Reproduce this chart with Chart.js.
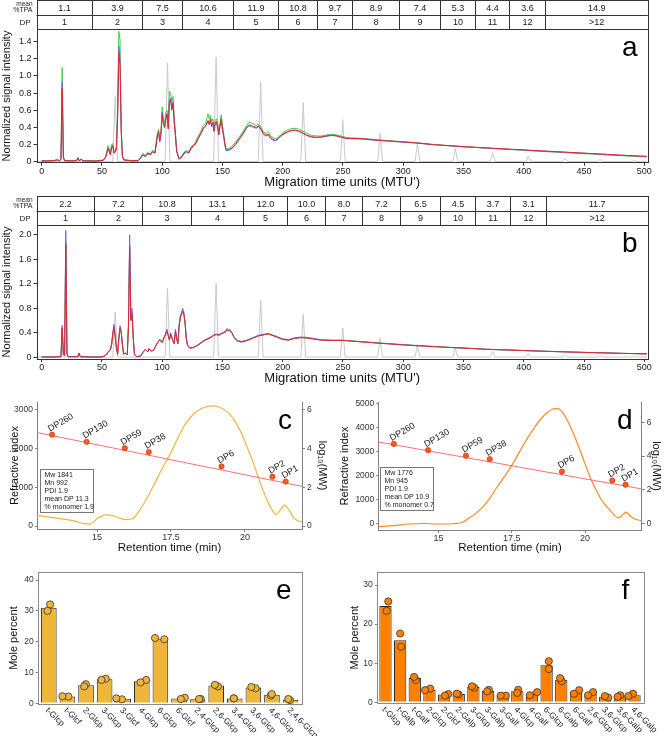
<!DOCTYPE html>
<html>
<head>
<meta charset="utf-8">
<title>Figura</title>
<script src="https://cdn.jsdelivr.net/npm/chart.js@4.4.1/dist/chart.umd.min.js"></script>
<style>
html, body { margin: 0; padding: 0; background: #ffffff; }
body { position: relative; width: 667px; height: 736px; overflow: hidden; }
.painel { position: absolute; }
</style>
</head>
<body>
<div class="painel" style="left:0px;top:0px;width:667px;height:190px"><canvas id="graficoA"></canvas></div>
<div class="painel" style="left:0px;top:196px;width:667px;height:190px"><canvas id="graficoB"></canvas></div>
<div class="painel" style="left:0px;top:395px;width:333px;height:160px"><canvas id="graficoC"></canvas></div>
<div class="painel" style="left:333px;top:395px;width:334px;height:160px"><canvas id="graficoD"></canvas></div>
<div class="painel" style="left:0px;top:565px;width:333px;height:171px"><canvas id="graficoE"></canvas></div>
<div class="painel" style="left:333px;top:565px;width:334px;height:171px"><canvas id="graficoF"></canvas></div>
<script>
// ---------- panel a: electropherogram ----------
var mtuA = [0,5,10,13,15,16,17,18,19,25,
  29,30,31,33,34,45,51,53,54,55,
  56,57,58,59,60,61,62,63,64,65,
  66,67,68,75,80,82,84,86,88,90,
  92,94,96,97,98,99,100,101,102,103,
  104,105,106,107,108,109,110,111,112,114,
  116,118,120,122,124,126,128,130,132,134,
  136,138,139,140,141,142,143,144,145,146,
  147,148,149,150,151,152,153,155,158,161,
  164,167,170,172,174,176,178,180,182,184,
  186,188,190,192,194,196,198,201,204,207,
  210,213,216,220,224,228,232,236,240,244,
  248,252,256,262,268,275,285,295,310,325,
  340,355,370,385,400,415,430,445,460,475,
  490,502];
var vermelhoA = [.01,.01,.012,.02,.012,.03,.86,.05,.012,.01,
  .012,.045,.012,.03,.01,.008,.015,.05,.1,.16,
  .13,.08,.17,.19,.1,.11,.16,.5,1.28,1.12,
  .35,.06,.02,.01,.012,.04,.08,.06,.1,.08,
  .12,.1,.3,.35,.24,.33,.56,.44,.4,.5,
  .55,.38,.68,.72,.6,.68,.45,.3,.12,.03,
  .05,.1,.12,.1,.16,.19,.22,.28,.33,.39,
  .42,.48,.44,.5,.42,.46,.36,.45,.47,.4,
  .32,.42,.5,.38,.3,.2,.14,.14,.16,.21,
  .27,.33,.4,.43,.42,.41,.4,.42,.38,.33,
  .31,.32,.28,.26,.25,.27,.3,.33,.35,.365,
  .37,.36,.34,.31,.29,.285,.29,.3,.31,.305,
  .29,.275,.27,.27,.265,.255,.245,.235,.22,.2,
  .185,.172,.16,.148,.137,.126,.115,.103,.092,.08,
  .069,.062];
var verdeA = [.012,.012,.014,.025,.014,.03,1.1,.06,.014,.012,
  .014,.05,.014,.03,.012,.01,.02,.06,.12,.19,
  .15,.1,.2,.21,.12,.13,.18,.6,1.52,1.42,
  .4,.07,.025,.012,.015,.05,.1,.07,.11,.09,
  .13,.12,.34,.38,.27,.36,.64,.5,.45,.57,
  .6,.44,.82,.8,.7,.76,.52,.34,.14,.04,
  .06,.11,.13,.12,.17,.2,.24,.3,.35,.42,
  .45,.56,.5,.54,.47,.5,.42,.48,.5,.45,
  .36,.46,.55,.42,.33,.22,.15,.15,.18,.23,
  .29,.35,.42,.46,.45,.44,.42,.44,.4,.35,
  .33,.35,.3,.28,.27,.28,.31,.35,.37,.385,
  .39,.38,.36,.33,.305,.3,.3,.31,.32,.315,
  .3,.285,.278,.275,.27,.26,.248,.238,.222,.2,
  .185,.17,.157,.145,.133,.12,.108,.097,.086,.074,
  .063,.055];
var azulA = [.008,.008,.01,.018,.01,.03,.93,.05,.01,.008,
  .01,.04,.01,.025,.008,.006,.012,.05,.09,.15,
  .12,.08,.16,.18,.1,.11,.15,.55,1.35,1.2,
  .35,.06,.02,.008,.01,.04,.08,.06,.09,.08,
  .11,.1,.3,.33,.23,.32,.58,.45,.4,.52,
  .56,.4,.72,.74,.62,.7,.46,.3,.12,.03,
  .05,.09,.11,.1,.15,.18,.21,.27,.32,.38,
  .41,.47,.43,.48,.41,.45,.35,.44,.46,.39,
  .31,.41,.48,.37,.29,.19,.13,.13,.155,.2,
  .26,.32,.39,.42,.41,.4,.39,.41,.37,.32,
  .3,.31,.27,.25,.245,.26,.29,.32,.345,.36,
  .365,.355,.335,.305,.285,.28,.285,.295,.305,.3,
  .285,.272,.268,.266,.262,.252,.242,.232,.218,.198,
  .183,.17,.158,.147,.135,.124,.113,.102,.091,.08,
  .069,.062];

// ---------- panel b: electropherogram ----------
var mtuB = [0,10,16,17,18,19,20,21,22,30,
  31,32,40,50,53,55,56,57,58,59,
  60,61,62,63,64,65,66,67,68,69,
  70,71,72,73,74,75,76,77,79,82,
  84,86,88,89,91,93,95,97,98,100,
  102,104,105,106,107,108,109,110,111,112,
  113,114,115,116,117,118,119,120,121,123,
  126,130,134,138,141,143,145,147,149,151,
  153,154,155,156,157,158,160,163,166,170,
  175,180,185,188,191,195,200,205,210,215,
  220,225,232,240,250,260,270,280,295,310,
  325,340,355,370,385,400,420,440,460,480,
  502];
var vermelhoB = [.005,.005,.01,.48,.05,.02,1.85,.05,.01,.01,
  .07,.01,.005,.005,.03,.08,.1,.12,.2,.38,
  .5,.33,.15,.05,.3,.48,.4,.2,.05,.07,
  .06,.04,.5,1.8,.6,.72,.3,.04,.01,.02,
  .08,.13,.09,.14,.1,.12,.2,.26,.28,.24,
  .34,.43,.35,.28,.38,.32,.26,.22,.43,.3,
  .22,.5,.65,.7,.76,.7,.55,.3,.2,.15,
  .16,.2,.26,.3,.33,.36,.37,.36,.38,.4,
  .42,.45,.43,.44,.41,.39,.31,.26,.25,.27,
  .31,.35,.37,.38,.36,.33,.29,.28,.31,.32,
  .315,.3,.28,.275,.275,.26,.245,.23,.21,.19,
  .175,.16,.145,.13,.12,.11,.097,.085,.075,.065,
  .055];
var azulB = [.005,.005,.01,.52,.05,.02,2.07,.06,.01,.01,
  .07,.01,.005,.005,.03,.09,.11,.13,.22,.4,
  .54,.36,.16,.05,.32,.52,.43,.21,.05,.07,
  .06,.04,.55,2.0,.65,.8,.33,.04,.01,.02,
  .08,.13,.09,.14,.1,.12,.2,.27,.3,.25,
  .35,.46,.36,.29,.4,.33,.27,.23,.46,.31,
  .23,.53,.68,.73,.8,.74,.58,.31,.2,.15,
  .165,.21,.27,.31,.34,.37,.38,.37,.39,.41,
  .44,.47,.45,.46,.43,.4,.32,.27,.26,.28,
  .32,.36,.38,.39,.37,.34,.3,.29,.32,.33,
  .325,.31,.285,.28,.275,.26,.245,.23,.21,.19,
  .175,.158,.145,.13,.12,.11,.097,.085,.075,.065,
  .055];
var verdeB = [.005,.005,.01,.47,.05,.02,1.9,.05,.01,.01,
  .065,.01,.005,.005,.03,.08,.1,.12,.2,.37,
  .5,.33,.15,.05,.3,.47,.4,.2,.05,.07,
  .06,.04,.5,1.85,.6,.65,.3,.04,.01,.02,
  .08,.13,.09,.14,.1,.12,.2,.26,.28,.24,
  .34,.42,.35,.28,.37,.32,.26,.22,.42,.3,
  .22,.49,.64,.69,.74,.69,.54,.3,.2,.15,
  .16,.2,.26,.3,.33,.36,.37,.36,.38,.4,
  .42,.45,.43,.44,.41,.39,.31,.26,.25,.27,
  .31,.35,.37,.38,.36,.33,.29,.28,.31,.32,
  .315,.3,.28,.275,.28,.265,.25,.235,.215,.195,
  .178,.16,.147,.13,.12,.11,.097,.085,.075,.065,
  .055];

// dextran ladder (grey trace)
var escadaPos = [61, 104.4, 144.7, 181.7, 217, 249.8, 280.8, 311.8, 343.2, 374.2, 403.8, 434, 463.3, 492];
var escadaAltA = [0.76, 1.15, 1.22, 0.93, 0.69, 0.49, 0.33, 0.22, 0.155, 0.105, 0.066, 0.04, 0.027, 0.015];
var escadaAltB = [0.74, 1.13, 1.21, 0.93, 0.70, 0.48, 0.32, 0.21, 0.15, 0.10, 0.06, 0.04, 0.025, 0.015];

// tables above a and b
var dpColunas = ['1','2','3','4','5','6','7','8','9','10','11','12','>12'];
var tpaA = [1.1, 3.9, 7.5, 10.6, 11.9, 10.8, 9.7, 8.9, 7.4, 5.3, 4.4, 3.6, 14.9];
var tpaB = [2.2, 7.2, 10.8, 13.1, 12.0, 10.0, 8.0, 7.2, 6.5, 4.5, 3.7, 3.1, 11.7];
var bordasA = [42.1, 83.0, 116.2, 158.9, 196.0, 228.1, 257.7, 296.2, 330.7, 359.2, 387.7, 418.0];
var bordasB = [43.8, 83.0, 124.0, 166.8, 203.5, 235.2, 265.9, 296.9, 330.7, 359.2, 388.4, 418.7];

// ---------- panels c, d: SEC ----------
var tempoC = [12.97, 13.5, 14.0, 14.3, 14.55, 14.75, 15.0, 15.3, 15.6, 15.95, 16.2, 16.5, 16.8, 17.0, 17.25, 17.5, 17.75, 18.0, 18.25, 18.5, 18.75, 18.93, 19.1, 19.35, 19.6, 19.85, 20.1, 20.3, 20.5, 20.7, 20.9, 21.07, 21.2, 21.35, 21.5, 21.65, 21.8, 21.93];
var riC = [275, 217, 165, 120, 62, 50, 190, 290, 255, 165, 190, 480, 880, 1180, 1550, 1900, 2300, 2650, 2880, 3020, 3090, 3100, 3080, 2980, 2780, 2450, 1990, 1600, 1150, 760, 440, 300, 420, 540, 400, 210, 130, 110];
var tempoD = [12.95, 13.5, 14.0, 14.5, 15.0, 15.5, 15.8, 16.0, 16.25, 16.5, 16.75, 17.0, 17.25, 17.5, 17.75, 18.0, 18.25, 18.5, 18.75, 18.95, 19.1, 19.3, 19.5, 19.75, 20.0, 20.2, 20.4, 20.55, 20.7, 20.85, 21.0, 21.15, 21.3, 21.4, 21.55, 21.7, 21.93];
var riD = [-135, -90, -20, 0, -20, -10, 40, 190, 400, 670, 1050, 1520, 1950, 2420, 2950, 3480, 3950, 4370, 4650, 4780, 4770, 4500, 4030, 3300, 2480, 1850, 1340, 1000, 760, 560, 340, 240, 380, 470, 300, 180, 120];
var ticksRiC = [0, 1000, 2000, 3000];
var ticksRiD = [0, 1000, 2000, 3000, 4000, 5000];
var ticksLog = [0, 2, 4, 6];
var calibTempo = [12.97, 21.93];
var calibLog = [4.83, 2.05];
var dpTempo = [13.48, 14.65, 15.94, 16.75, 19.21, 20.93, 21.38];
var dpLog = [4.72, 4.35, 4.02, 3.82, 3.08, 2.55, 2.30];
var dpRotulos = ['DP260', 'DP130', 'DP59', 'DP38', 'DP6', 'DP2', 'DP1'];
var statsC = ['Mw 1841', 'Mn 992', 'PDI 1.9', 'mean DP 11.3', '% monomer 1.9'];
var statsD = ['Mw 1776', 'Mn 945', 'PDI 1.9', 'mean DP 10.9', '% monomer 0.7'];

// ---------- panels e, f: linkage analysis ----------
var rotulosE = ['t-Glcp','t-Glcf','2-Glcp','3-Glcp','3-Glcf','4-Glcp','6-Glcp','6-Glcf','2,4-Glcp','2,6-Glcp','3,4-Glcp','3,6-Glcp','4,6-Glcp','2,4,6-Glcp'];
var mediaE = [31.0, 2.2, 5.9, 7.8, 1.5, 7.2, 21.0, 1.6, 1.3, 5.8, 1.6, 5.1, 2.8, 1.2];
var rep1E = [30.0, 2.3, 5.5, 7.6, 1.6, 6.8, 21.2, 1.4, 1.4, 6.0, 1.6, 5.3, 3.0, 1.4];
var rep2E = [32.1, 2.2, 6.2, 8.0, 1.3, 7.6, 20.8, 1.8, 1.4, 5.5, 1.6, 4.9, 2.5, 1.0];
var jit1E = [-0.07, -0.27, -0.1, -0.17, -0.37, -0.07, -0.29, 0.1, 0.08, -0.07, -0.05, -0.11, -0.01, -0.12];
var jit2E = [0.07, 0.05, -0.01, 0.06, -0.07, 0.23, 0.21, 0.31, 0.17, 0.09, -0.05, 0.12, -0.06, -0.03];

var rotulosF = ['t-Glcp','t-Galp','t-Galf','2-Glcp','2-Glcf','2-Galp','3-Glcp','3-Galp','3-Galf','4-Glcp','4-Galf','6-Glcp','6-Galp','6-Galf','2,6-Glcp','3,6-Glcp','3,6-Galp','4,6-Galp'];
var mediaF = [24.6, 15.9, 6.2, 3.2, 2.0, 2.1, 3.9, 2.9, 1.8, 2.8, 2.1, 9.5, 5.8, 2.7, 2.2, 1.4, 1.7, 1.8];
var rep1F = [25.8, 17.6, 6.5, 3.1, 1.7, 2.2, 4.1, 2.8, 1.7, 2.4, 1.8, 10.5, 6.2, 2.2, 1.8, 1.6, 1.4, 1.6];
var rep2F = [23.4, 14.2, 5.7, 3.5, 2.1, 2.0, 3.7, 3.2, 1.7, 3.2, 2.6, 8.5, 5.4, 3.1, 2.6, 1.2, 1.8, 2.2];
var jit1F = [0.19, 0, -0.05, -0.3, 0.06, -0.13, -0.1, -0.06, -0.13, -0.01, -0.15, 0.15, -0.08, -0.13, -0.17, -0.02, -0.15, -0.42];
var jit2F = [0.08, 0.07, 0.07, 0.05, 0.29, -0.01, 0.06, 0.06, 0.22, 0.06, 0.35, 0.15, 0.03, 0.22, 0.17, 0.2, 0.03, -0.1];

// ---------- helpers ----------
var FONTE = "'Liberation Sans', 'DejaVu Sans', Arial, sans-serif";
Chart.defaults.font.family = FONTE;
Chart.defaults.color = '#1a1a1a';
Chart.defaults.animation = false;
Chart.defaults.devicePixelRatio = 1;
Chart.defaults.plugins.legend.display = false;
Chart.defaults.plugins.tooltip.enabled = false;
Chart.defaults.elements.point.radius = 0;
Chart.defaults.elements.line.borderWidth = 1;

function pontos(xs, ys) {
    return xs.map(function (x, i) { return {x: x, y: ys[i]}; });
}

function fixarTicks(valores) {
    return function (s) { s.ticks = valores.map(function (v) { return {value: v}; }); };
}

function escada(pos, alt) {
    var pts = [{x: -4, y: 0.003}];
    pos.forEach(function (p, i) {
        pts.push({x: p - 2, y: 0.003}, {x: p, y: alt[i]}, {x: p + 2, y: 0.003});
    });
    pts.push({x: 502, y: 0.003});
    return pts;
}

function pluginMoldura(id, cor) {
    return {
        id: id,
        afterDraw: function (chart) {
            var a = chart.chartArea, ctx = chart.ctx;
            ctx.save();
            ctx.strokeStyle = cor;
            ctx.lineWidth = 1;
            ctx.strokeRect(Math.round(a.left) + 0.5, Math.round(a.top) + 0.5, Math.round(a.right - a.left), Math.round(a.bottom - a.top));
            ctx.restore();
        }
    };
}

function pluginLetra(id, letra, dx, dy) {
    return {
        id: id,
        afterDraw: function (chart) {
            var a = chart.chartArea, ctx = chart.ctx;
            ctx.save();
            ctx.font = '28px ' + FONTE;
            ctx.fillStyle = '#000';
            ctx.textAlign = 'center';
            ctx.textBaseline = 'alphabetic';
            ctx.fillText(letra, a.right - dx, a.top + dy);
            ctx.restore();
        }
    };
}

function pluginTabela(id, bordas, tpa, dp) {
    return {
        id: id,
        afterDraw: function (chart) {
            var ctx = chart.ctx, a = chart.chartArea, sx = chart.scales.x;
            var y0 = 0.5, y2 = Math.round(a.top) + 0.5, y1 = Math.round((y0 + y2) / 2) + 0.5;
            var xs = [a.left].concat(bordas.map(function (b) { return Math.round(sx.getPixelForValue(b)) + 0.5; })).concat([a.right]);
            ctx.save();
            ctx.strokeStyle = '#333';
            ctx.lineWidth = 1;
            ctx.strokeRect(Math.round(a.left) + 0.5, y0, Math.round(a.right - a.left), y2 - y0);
            ctx.beginPath();
            ctx.moveTo(a.left, y1); ctx.lineTo(a.right, y1);
            for (var k = 1; k < xs.length - 1; k++) {
                ctx.moveTo(xs[k], y0); ctx.lineTo(xs[k], y2);
            }
            ctx.stroke();
            ctx.fillStyle = '#1a1a1a';
            ctx.textAlign = 'center';
            ctx.textBaseline = 'middle';
            ctx.font = '9px ' + FONTE;
            for (var i = 0; i < tpa.length; i++) {
                var cx = (xs[i] + xs[i + 1]) / 2;
                ctx.fillText(tpa[i].toFixed(1), cx, (y0 + y1) / 2 + 0.5);
                ctx.fillText(dp[i], cx, (y1 + y2) / 2 + 0.5);
            }
            ctx.textAlign = 'right';
            ctx.font = '6.5px ' + FONTE;
            ctx.fillText('mean', a.left - 4, y0 + 3.5);
            ctx.font = '7px ' + FONTE;
            ctx.fillText('%TPA', a.left - 4, y0 + 10);
            ctx.font = '8px ' + FONTE;
            ctx.fillText('DP', a.left - 6, (y1 + y2) / 2 + 0.5);
            ctx.restore();
        }
    };
}

function pluginRotulosDP(id) {
    return {
        id: id,
        afterDatasetsDraw: function (chart) {
            var ctx = chart.ctx, meta = chart.getDatasetMeta(0);
            ctx.save();
            ctx.font = '9px ' + FONTE;
            ctx.fillStyle = '#222';
            ctx.textAlign = 'left';
            ctx.textBaseline = 'alphabetic';
            meta.data.forEach(function (pt, i) {
                ctx.save();
                ctx.translate(pt.x - 2, pt.y - 3);
                ctx.rotate(-Math.PI / 6);
                ctx.fillText(dpRotulos[i], 0, 0);
                ctx.restore();
            });
            ctx.restore();
        }
    };
}

function pluginCaixa(id, linhas, dx, dy, w, h) {
    return {
        id: id,
        afterDraw: function (chart) {
            var ctx = chart.ctx, a = chart.chartArea;
            var x = Math.round(a.left + dx) + 0.5, y = Math.round(a.top + dy) + 0.5;
            ctx.save();
            ctx.strokeStyle = '#777';
            ctx.lineWidth = 1;
            ctx.fillStyle = '#fff';
            ctx.fillRect(x, y, w, h);
            ctx.strokeRect(x, y, w, h);
            ctx.fillStyle = '#222';
            ctx.font = '7px ' + FONTE;
            ctx.textAlign = 'left';
            ctx.textBaseline = 'middle';
            linhas.forEach(function (t, i) {
                ctx.fillText(t, x + 4, y + 5.5 + i * 8.1);
            });
            ctx.restore();
        }
    };
}

function pluginRotulosX(id, rotulos) {
    return {
        id: id,
        afterDraw: function (chart) {
            var ctx = chart.ctx, sx = chart.scales.x, a = chart.chartArea;
            ctx.save();
            ctx.font = '8.5px ' + FONTE;
            ctx.fillStyle = '#222';
            ctx.textAlign = 'left';
            ctx.textBaseline = 'middle';
            rotulos.forEach(function (r, i) {
                var x = sx.getPixelForValue(i);
                ctx.save();
                ctx.translate(x - 2, a.bottom + 5);
                ctx.rotate(Math.PI / 4);
                ctx.fillText(r, 0, 0);
                ctx.restore();
            });
            ctx.restore();
        }
    };
}

// ---------- electropherograms ----------
function graficoEletroforese(idCanvas, cfg) {
    var ctx = document.getElementById(idCanvas).getContext('2d');
    return new Chart(ctx, {
        type: 'line',
        data: {
            datasets: [
                {label: 'red', data: pontos(cfg.mtu, cfg.vermelho), borderColor: '#e3262b', order: 1},
                {label: 'blue', data: pontos(cfg.mtu, cfg.azul), borderColor: '#6b6bf2', order: 2},
                {label: 'green', data: pontos(cfg.mtu, cfg.verde), borderColor: '#3fcf45', order: 3},
                {label: 'ladder', data: escada(escadaPos, cfg.escadaAlt), borderColor: '#c9c9c9', order: 4}
            ]
        },
        options: {
            responsive: true,
            maintainAspectRatio: false,
            layout: {padding: {top: cfg.topo, right: 19.2, left: 0, bottom: 0}},
            scales: {
                x: {
                    type: 'linear', min: -4.3, max: 502.9,
                    border: {display: false},
                    grid: {display: true, drawOnChartArea: false, tickLength: 3, color: '#333'},
                    ticks: {stepSize: 50, includeBounds: false, padding: 0, maxRotation: 0, font: {size: 9}, color: '#1a1a1a',
                        callback: function (v) { return String(v); }},
                    title: {display: true, text: "Migration time units (MTU')", font: {size: 13}, color: '#111', padding: 0},
                    afterFit: function (s) { s.height = cfg.alturaX; }
                },
                y: {
                    min: cfg.yMin, max: cfg.yMax,
                    border: {display: false},
                    grid: {display: true, drawOnChartArea: false, tickLength: 3, color: '#333'},
                    ticks: {stepSize: 0.2, includeBounds: false, padding: 2, font: {size: 9}, color: '#1a1a1a',
                        callback: function (v) { return v === 0 ? '0' : v.toFixed(1); }},
                    title: {display: true, text: 'Normalized signal intensity', font: {size: 11}, color: '#111', padding: 0},
                    afterFit: function (s) { s.width = 36.5; }
                }
            }
        },
        plugins: [
            pluginTabela('tabela' + idCanvas, cfg.bordas, cfg.tpa, dpColunas),
            pluginMoldura('moldura' + idCanvas, '#333'),
            pluginLetra('letra' + idCanvas, cfg.letra, 18, 27)
        ]
    });
}

graficoEletroforese('graficoA', {
    mtu: mtuA, vermelho: vermelhoA, verde: verdeA, azul: azulA, escadaAlt: escadaAltA,
    yMin: -0.012, yMax: 1.545, topo: 29.3, alturaX: 27.3,
    bordas: bordasA, tpa: tpaA, letra: 'a'
});
graficoEletroforese('graficoB', {
    mtu: mtuB, vermelho: vermelhoB, verde: verdeB, azul: azulB, escadaAlt: escadaAltB,
    yMin: -0.028, yMax: 2.16, topo: 29, alturaX: 27,
    bordas: bordasB, tpa: tpaB, letra: 'b'
});

// ---------- SEC chromatograms ----------
function graficoSEC(idCanvas, cfg) {
    var ctx = document.getElementById(idCanvas).getContext('2d');
    var eixo = '#808080';
    return new Chart(ctx, {
        type: 'line',
        data: {
            datasets: [
                {label: 'DP standards', data: pontos(dpTempo, dpLog), yAxisID: 'y2', showLine: false,
                    pointRadius: 2.6, pointBackgroundColor: '#ff5a1f', pointBorderColor: '#d23c16', pointBorderWidth: 0.8, order: 1},
                {label: 'calibration', data: pontos(calibTempo, calibLog), yAxisID: 'y2', borderColor: '#ff7070', borderWidth: 1, order: 2},
                {label: 'RI', data: pontos(cfg.tempo, cfg.ri), yAxisID: 'y', borderColor: cfg.cor, borderWidth: 1.2,
                    cubicInterpolationMode: 'monotone', order: 3}
            ]
        },
        options: {
            responsive: true,
            maintainAspectRatio: false,
            layout: {padding: {top: 3, right: 0, left: 0, bottom: 0}},
            scales: {
                x: {
                    type: 'linear', min: cfg.tMin, max: 21.93,
                    border: {display: true, color: eixo},
                    grid: {display: true, drawOnChartArea: false, tickLength: 3, color: eixo},
                    ticks: {stepSize: 2.5, includeBounds: false, padding: 0, maxRotation: 0, font: {size: 9}, color: '#333',
                        callback: function (v) { return String(v); }},
                    title: {display: true, text: 'Retention time (min)', font: {size: 11.5}, color: '#111', padding: 0},
                    afterFit: function (s) { s.height = cfg.alturaX; }
                },
                y: {
                    position: 'left', min: cfg.riMin, max: cfg.riMax,
                    border: {display: true, color: eixo},
                    grid: {display: true, drawOnChartArea: false, tickLength: 2, color: eixo},
                    afterBuildTicks: fixarTicks(cfg.ticksRi),
                    ticks: {padding: 2, font: {size: 8.5}, color: '#333',
                        callback: function (v) { return String(v); }},
                    title: {display: true, text: 'Refractive index', font: {size: 11}, color: '#111', padding: {top: cfg.padTitulo}},
                    afterFit: function (s) { s.width = cfg.larguraY; }
                },
                y2: {
                    position: 'right', min: cfg.logMin, max: cfg.logMax,
                    border: {display: true, color: eixo},
                    grid: {display: true, drawOnChartArea: false, tickLength: 3, color: eixo},
                    afterBuildTicks: fixarTicks(ticksLog),
                    ticks: {padding: 2, font: {size: 8.5}, color: '#333',
                        callback: function (v) { return String(v); }},
                    title: {display: true, text: 'log\u2081\u2080(MW)', font: {size: 11}, color: '#111', padding: {top: 4}},
                    afterFit: function (s) { s.width = cfg.larguraY2; }
                }
            }
        },
        plugins: [
            pluginRotulosDP('dp' + idCanvas),
            pluginCaixa('caixa' + idCanvas, cfg.stats, cfg.caixaX, cfg.caixaY, 53, 43),
            pluginLetra('letra' + idCanvas, cfg.letra, 17, 27)
        ]
    });
}

graficoSEC('graficoC', {
    tempo: tempoC, ri: riC, cor: '#f2b43b', tMin: 12.97, ticksRi: ticksRiC,
    riMin: -75, riMax: 3200, logMin: -0.15, logMax: 6.4,
    larguraY: 37, larguraY2: 31, alturaX: 26, padTitulo: 8.4,
    stats: statsC, caixaX: 3, caixaY: 67, letra: 'c'
});
graficoSEC('graficoD', {
    tempo: tempoD, ri: riD, cor: '#ff8a1c', tMin: 12.95, ticksRi: ticksRiD,
    riMin: -270, riMax: 5052, logMin: -0.385, logMax: 7.2,
    larguraY: 45.3, larguraY2: 25.3, alturaX: 25, padTitulo: 5.4,
    stats: statsD, caixaX: 1.7, caixaY: 65, letra: 'd'
});

// ---------- linkage bar charts ----------
function graficoLigacoes(idCanvas, cfg) {
    var ctx = document.getElementById(idCanvas).getContext('2d');
    var n = cfg.rotulos.length;
    var pontosRep = function (reps, jit) {
        return reps.map(function (v, i) { return {x: i + jit[i], y: v}; });
    };
    return new Chart(ctx, {
        type: 'bar',
        data: {
            datasets: [
                {type: 'scatter', label: 'rep 1', data: pontosRep(cfg.rep1, cfg.jit1), pointRadius: 3.6,
                    pointBackgroundColor: cfg.cor, pointBorderColor: '#333', pointBorderWidth: 0.8, order: 1},
                {type: 'scatter', label: 'rep 2', data: pontosRep(cfg.rep2, cfg.jit2), pointRadius: 3.6,
                    pointBackgroundColor: cfg.cor, pointBorderColor: '#333', pointBorderWidth: 0.8, order: 1},
                {type: 'bar', label: 'mean', data: cfg.media.map(function (v, i) { return {x: i, y: v}; }),
                    backgroundColor: cfg.cor, borderColor: '#2a2a2a', borderWidth: 1,
                    barPercentage: 0.84, categoryPercentage: 1, order: 2}
            ]
        },
        options: {
            responsive: true,
            maintainAspectRatio: false,
            layout: {padding: {top: 3.3, right: cfg.direita, left: 0, bottom: 0}},
            scales: {
                x: {
                    type: 'linear', min: -0.6, max: n - 0.4, offset: false,
                    border: {display: false},
                    grid: {display: false},
                    ticks: {display: false},
                    afterFit: function (s) { s.height = cfg.alturaX; }
                },
                y: {
                    min: cfg.yMin, max: cfg.yMax,
                    border: {display: false},
                    grid: {display: true, drawOnChartArea: false, tickLength: 2, color: '#808080'},
                    ticks: {stepSize: 10, includeBounds: false, padding: 2, font: {size: 8.5}, color: '#333',
                        callback: function (v) { return String(v); }},
                    title: {display: true, text: 'Mole percent', font: {size: 11}, color: '#111', padding: {top: cfg.padTitulo}},
                    afterFit: function (s) { s.width = cfg.larguraY; }
                }
            }
        },
        plugins: [
            pluginMoldura('moldura' + idCanvas, '#8a8a8a'),
            pluginRotulosX('rotulos' + idCanvas, cfg.rotulos),
            pluginLetra('letra' + idCanvas, cfg.letra, 18, 27)
        ]
    });
}

graficoLigacoes('graficoE', {
    rotulos: rotulosE, media: mediaE, rep1: rep1E, rep2: rep2E, jit1: jit1E, jit2: jit2E,
    cor: '#f0b63a', yMin: -0.22, yMax: 42.6, larguraY: 37.7, direita: 31.3, alturaX: 32, padTitulo: 7.4, letra: 'e'
});
graficoLigacoes('graficoF', {
    rotulos: rotulosF, media: mediaF, rep1: rep1F, rep2: rep2F, jit1: jit1F, jit2: jit2F,
    cor: '#ff8000', yMin: -0.25, yMax: 33.3, larguraY: 43.7, direita: 23.7, alturaX: 32.7, padTitulo: 15.7, letra: 'f'
});
</script>
</body>
</html>
